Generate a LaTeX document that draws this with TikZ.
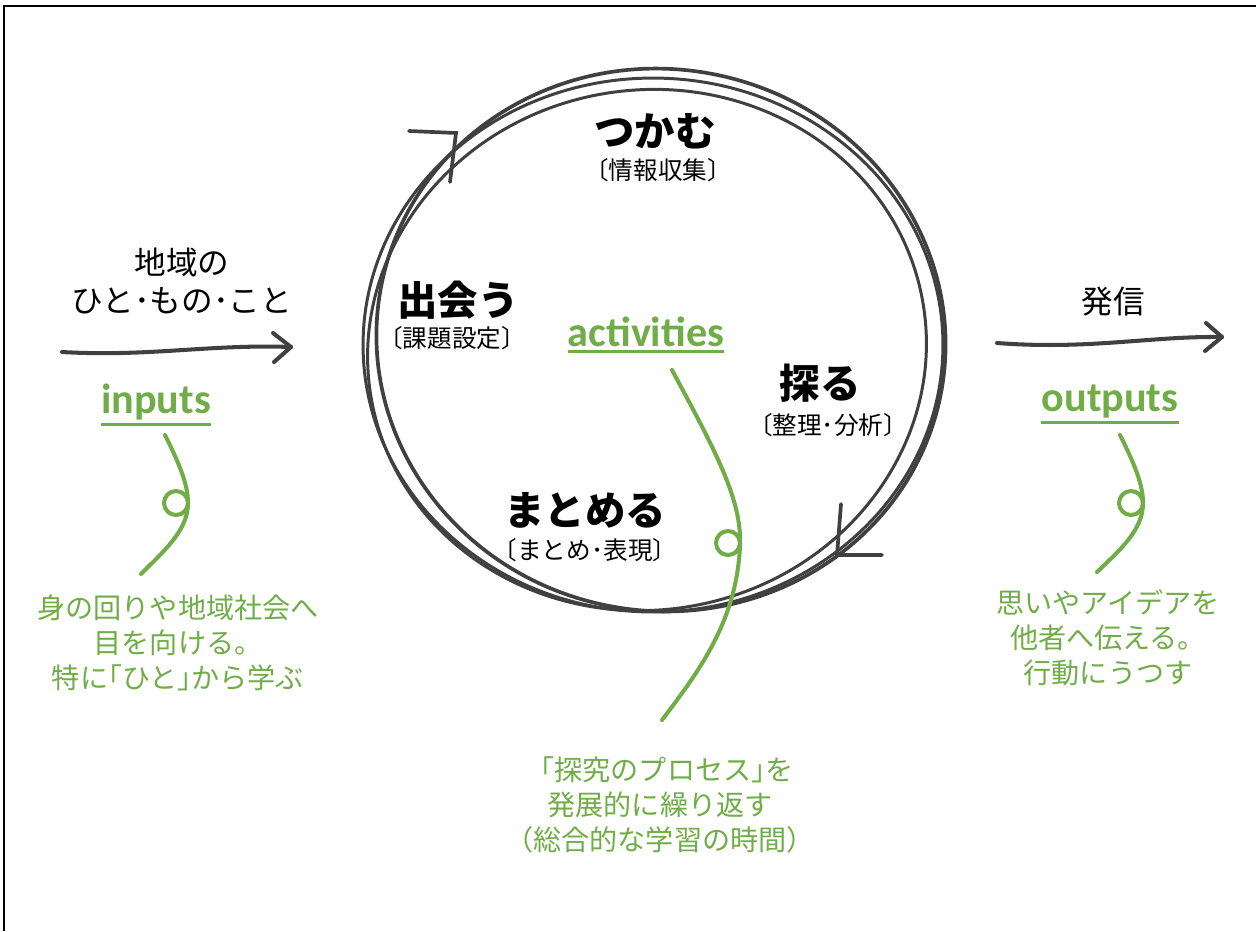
\documentclass[tikz,border=0pt]{standalone}
\usepackage{fontspec}
\setmainfont{Noto Sans CJK JP}
\newfontfamily\latfont{Carlito}
\definecolor{ink}{HTML}{404040}
\definecolor{leaf}{HTML}{70AD47}
\tikzset{
  stroke/.style={draw=ink, line width=1.7pt, line cap=round},
  flow/.style={draw=ink, line width=2.3pt, line cap=round, line join=round},
  vine/.style={draw=leaf, line width=2.3pt, line cap=round},
  mainlbl/.style={font=\bfseries\fontsize{23}{27}\selectfont, text=black, inner sep=0pt},
  sublbl/.style={font=\fontsize{14}{17}\selectfont, text=black, inner sep=0pt},
  sidelbl/.style={font=\fontsize{18}{22}\selectfont, text=black, inner sep=0pt, align=center},
  note/.style={font=\fontsize{16}{20}\selectfont, text=leaf, inner sep=0pt, align=center},
  keyword/.style={font=\latfont\bfseries\fontsize{24}{28}\selectfont, text=leaf, inner sep=0pt},
}
\begin{document}
\begin{tikzpicture}[x=0.02cm, y=-0.02cm]
\useasboundingbox (0,0) rectangle (1256,931);
% frame (top and left edges)
\draw[black, line width=1.2pt] (4,931) -- (4,6) -- (1256,6);

% hand-drawn cycle
\draw[stroke] (653,345) ellipse [x radius=5.8cm, y radius=5.34cm];
\draw[stroke, rotate around={10:(647,350)}] (647,350) ellipse [x radius=5.6cm, y radius=5.2cm];
\draw[stroke, line width=2.1pt, rotate around={-10:(661,340)}] (661,340) ellipse [x radius=5.7cm, y radius=5.42cm];
% arrowheads on the cycle
\coordinate (tipA) at (456,133);
\coordinate (tipB) at (837,555);
\draw[stroke, line width=2.1pt] (409,131) -- (tipA) -- (450,182);
\draw[stroke, line width=2.1pt] (882,555) -- (tipB) -- (841,504);

% labels inside the cycle
\node[mainlbl] (grab) at (655,131) {つかむ};
\node[sublbl] (grabs) at (658,170) {〔情報収集〕};
\node[mainlbl] (meet) at (458,300) {出会う};
\node[sublbl] (meets) at (452,338) {〔課題設定〕};
\node[mainlbl] (seek) at (820,383) {探る};
\node[sublbl] (seeks) at (828,425) {〔整理･分析〕};
\node[mainlbl] (sum) at (585,510) {まとめる};
\node[sublbl] (sums) at (585,550) {〔まとめ･表現〕};

% activities
\node[keyword] (act) at (646,332) {activities};
\draw[leaf, line width=1.8pt] ([yshift=-2.5pt]act.south west) -- ([yshift=-2.5pt]act.south east);

% inputs side
\node[sidelbl] (inl) at (182,281) {地域の\\ひと･もの･こと};
\coordinate (inA) at (62,352);
\coordinate (inB) at (291,347);
\draw[flow] (inA) .. controls (150,357) and (210,344) .. (inB);
\draw[flow] (273,333) -- (inB) -- (274,362);
\node[keyword] (inp) at (156,402) {inputs};
\draw[leaf, line width=1.8pt] ([yshift=-2.5pt]inp.south west) -- ([yshift=-2.5pt]inp.south east);

% outputs side
\node[sidelbl] (outl) at (1113,302) {発信};
\coordinate (outA) at (997,343);
\coordinate (outB) at (1222,337);
\draw[flow] (outA) .. controls (1090,350) and (1150,336) .. (outB);
\draw[flow] (1206,323) -- (outB) -- (1205,351);
\node[keyword] (outp) at (1110,401) {outputs};
\draw[leaf, line width=1.8pt] ([yshift=-2.5pt]outp.south west) -- ([yshift=-2.5pt]outp.south east);

% green vines
\draw[vine] (165,435) .. controls (180,465) and (188,485) .. (188,503) .. controls (188,530) and (165,550) .. (141,574);
\draw[vine] (176,503) circle [radius=0.24cm];
\draw[vine] (1120,435) .. controls (1135,465) and (1143,485) .. (1143,503) .. controls (1143,530) and (1120,550) .. (1097,572);
\draw[vine] (1131,503) circle [radius=0.24cm];
\draw[vine] (672,370) .. controls (715,450) and (742,500) .. (740,545) .. controls (737,620) and (700,670) .. (662,720);
\draw[vine] (728,543) circle [radius=0.24cm];

% green notes
\node[note] (nin) at (178,643) {身の回りや地域社会へ\\目を向ける。\\特に｢ひと｣から学ぶ};
\node[note] (nout) at (1108,638) {思いやアイデアを\\他者へ伝える。\\行動にうつす};
\node[note] (nact) at (660,805) {「探究のプロセス｣を\\発展的に繰り返す\\（総合的な学習の時間）};
\end{tikzpicture}
\end{document}
